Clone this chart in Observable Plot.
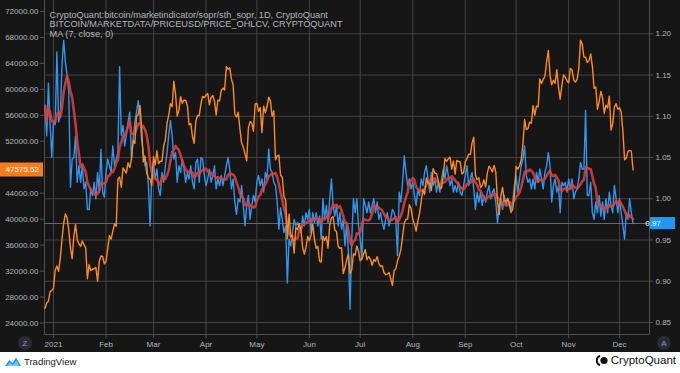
<!DOCTYPE html>
<html><head><meta charset="utf-8">
<script src="https://cdn.jsdelivr.net/npm/d3@7"></script>
<script src="https://cdn.jsdelivr.net/npm/@observablehq/plot@0.6"></script>
<style>
html,body{margin:0;padding:0;background:#fff;}
#wrap{width:680px;height:373px;position:relative;overflow:hidden;font-family:"Liberation Sans",Arial,sans-serif;}
#chart{width:680px;height:352px;background:#161616;}
#chart svg{display:block;}
#foot{height:21px;position:relative;background:#fff;}
#tv{position:absolute;left:5px;top:4px;display:flex;align-items:center;font-family:"Liberation Sans","DejaVu Sans",sans-serif;font-size:9.5px;color:#131722;}
#tv svg{margin-right:3px;}
#cq{position:absolute;right:4px;top:2px;display:flex;align-items:center;font-family:"Liberation Sans","DejaVu Sans",sans-serif;font-size:11.5px;color:#111;}
#cq svg{margin-right:3px;}
</style></head><body>
<div id="wrap">
<div id="chart"></div>
<div id="foot">
  <div id="tv"><svg width="16" height="11" viewBox="0 0 16 11"><path d="M0 10 L4.5 4 L7.5 7 L11 1.5 L16 10 Z" fill="#2196f3"/><path d="M2 10 L5 6.5 L8 9 L11.5 4.5 L14 10 Z" fill="#7cc1f7"/></svg>TradingView</div>
  <div id="cq"><svg width="12" height="11" viewBox="0 0 12 11"><path d="M4 0.8 A5 5 0 0 0 4 10.2" fill="none" stroke="#111" stroke-width="2"/><circle cx="8" cy="5.5" r="3.6" fill="#111"/></svg>CryptoQuant</div>
</div>
</div>
<script>
// ---- data ----
const startDate = "2020-12-27";
// BTC daily close (USD), 2020-12-27 .. 2021-12-09
const price = [
26272,27084,27362,28840,29001,
29374,32127,32782,31971,33992,36824,39371,40797,40254,38356,35566,33922,37316,39187,36825,36178,35792,36630,36070,35547,30825,33005,32067,32289,32366,32569,30432,33467,34316,34269,33114,
33538,35510,37473,36926,38144,39266,38903,46196,46481,44919,47909,47504,47105,48717,47945,49199,52149,51679,55888,56099,57539,54207,48824,49705,47093,46339,46188,45137,
49631,48378,50538,48561,48927,48912,51206,52246,54824,56008,57805,57332,61243,59302,55907,56804,58870,57858,58346,58313,57523,54529,54738,52774,51705,55137,55974,55947,57750,58918,58730,
59095,59384,57604,58760,59057,58192,56048,58323,58245,59793,60204,59893,63503,63109,63314,61572,60683,56216,55724,56473,53906,51762,51093,50050,49004,54021,55033,54824,53555,57750,
57828,56631,57200,53333,57424,56396,57356,58803,58232,55859,56704,49150,49716,49880,46760,46456,43537,42909,37002,40783,37304,37536,34770,38705,38403,39294,38436,35698,34616,35678,37332,
36684,37575,39187,36851,35520,35797,33552,33380,37389,36702,37334,35552,39098,40218,40406,38348,38093,35820,35484,35600,31608,32509,33678,34663,31584,32160,34644,34456,35867,35041,
33572,33897,34668,35287,33746,34235,33855,32877,33798,33520,34240,33155,32702,32822,31780,31421,31533,31796,30817,29807,32110,32313,33581,34292,35350,37337,39406,39995,40008,42235,41626,
39974,39201,38152,39747,40869,42816,44555,43798,46365,45585,45593,44428,47793,47096,47047,46004,44695,44801,46717,49339,48905,49321,49546,47706,48960,46942,49058,48903,48812,46991,47166,
48847,49327,50025,49944,51753,52633,46811,46091,46391,44883,45201,46063,44963,47092,48176,47783,47268,48278,47260,42844,40694,43575,44896,42840,42717,43208,42236,41035,41564,43790,
48117,47711,48200,49113,51515,55362,53805,53968,54968,54772,57485,56041,57401,57322,61593,60892,61553,62026,64262,65993,62210,60693,61393,60931,63040,60364,58483,60622,62228,61888,61319,
61004,63227,62970,61453,61125,61528,63327,67566,66971,64995,64950,64155,64469,65466,63557,60161,60368,56942,58119,59697,58730,56289,57570,57138,58960,53727,54721,57275,57806,56950,
57184,56481,53601,49152,49396,50441,50588,50471,47575.52
];
// STH-SOPR daily, same dates
const sopr = [
1.113,1.076,1.140,1.090,1.050,
1.093,1.090,1.178,1.093,1.100,1.162,1.192,1.166,1.150,1.130,1.014,1.048,1.050,1.076,1.020,1.040,1.020,1.040,1.012,1.020,0.987,0.987,1.012,1.004,1.020,1.000,1.032,1.008,1.060,1.008,1.002,
1.032,1.048,1.040,1.032,1.064,1.040,1.048,1.056,1.160,1.077,1.089,1.064,1.077,1.093,1.105,1.048,1.072,1.093,1.105,1.119,1.101,1.072,1.056,1.040,1.044,1.016,0.967,1.032,
1.044,1.024,1.036,1.012,1.004,1.032,1.020,1.040,1.056,1.077,1.095,1.077,1.048,1.056,1.020,1.040,1.032,1.048,1.036,1.020,1.032,1.024,1.040,1.020,1.012,1.044,1.048,1.020,1.050,1.048,1.028,
1.016,1.024,1.036,1.020,1.028,1.040,1.012,1.024,1.016,1.028,1.016,1.028,1.040,1.050,1.036,1.012,1.024,0.996,0.981,1.000,0.996,1.016,0.992,0.967,0.992,1.004,0.975,0.992,1.004,0.996,
1.020,1.028,1.016,1.024,1.008,1.032,1.024,1.060,1.036,1.032,1.020,1.016,0.996,0.963,0.989,0.975,0.959,0.967,0.898,0.951,0.943,0.959,0.975,0.967,0.971,0.967,0.959,0.979,0.967,0.983,0.975,
0.987,0.959,0.983,0.971,0.983,0.967,0.979,0.951,1.000,0.975,0.992,0.971,1.000,1.024,0.992,0.979,0.992,0.967,0.983,0.963,0.975,0.943,0.971,0.935,0.866,0.951,1.000,0.983,1.000,0.967,
0.951,0.927,1.000,0.992,0.983,0.996,0.983,0.992,1.000,0.983,0.996,0.975,0.983,0.971,0.963,0.975,0.983,0.967,0.975,0.987,0.983,0.975,0.931,1.008,0.996,1.020,1.052,1.032,1.016,1.024,1.012,
1.020,1.004,0.992,1.012,1.004,1.024,1.016,1.032,1.040,1.024,1.008,1.032,1.016,1.024,1.008,1.020,1.008,1.024,1.036,1.024,1.040,1.028,1.016,1.024,1.008,1.016,1.008,1.020,1.008,1.004,1.016,
1.028,1.040,1.016,1.024,1.032,1.012,0.987,1.008,0.996,1.008,0.992,1.004,0.996,1.008,1.016,1.000,1.008,1.012,0.996,0.971,0.992,1.000,0.987,1.004,0.992,1.000,0.996,0.987,0.996,1.016,
1.028,1.008,1.024,1.040,1.048,1.064,1.028,1.020,1.024,1.012,1.024,1.012,1.032,1.020,1.036,1.024,1.012,1.032,1.040,1.056,1.040,0.996,1.016,1.024,1.008,1.016,0.983,1.020,1.016,1.020,1.008,
1.024,1.012,1.024,1.000,1.008,1.012,1.024,1.044,1.036,1.036,1.107,1.004,1.004,1.020,0.983,0.975,0.996,0.983,1.004,0.979,0.996,0.975,1.000,0.983,1.008,0.992,0.983,1.016,1.000,0.983,
1.000,0.983,0.967,0.951,0.983,0.975,1.000,0.983,0.970
];
const monthStarts = ["2021-01-01","2021-02-01","2021-03-01","2021-04-01","2021-05-01","2021-06-01","2021-07-01","2021-08-01","2021-09-01","2021-10-01","2021-11-01","2021-12-01"];
const monthLabels = ["2021","Feb","Mar","Apr","May","Jun","Jul","Aug","Sep","Oct","Nov","Dec"];
const priceTicks = [72000,68000,64000,60000,56000,52000,44000,40000,36000,32000,28000,24000];
const soprTicks = [1.20,1.15,1.10,1.05,1.00,0.95,0.90,0.85];
const legendLines = [
  "CryptoQuant:bitcoin/marketindicator/sopr/sth_sopr, 1D, CryptoQuant",
  "BITCOIN/MARKETDATA/PRICEUSD/PRICE_OHLCV, CRYPTOQUANT",
  "MA (7, close, 0)"
];
const xDomain = [new Date("2020-12-26T16:30:00Z"), new Date("2021-12-18T17:00:00Z")];
const soprDomain = [0.8354, 1.2404];
const priceDomain = [22229, 73695];

// ---- build ----
const start = new Date(startDate + "T00:00:00Z");
const data = price.map((p, i) => ({date: d3.utcDay.offset(start, i), price: p, sopr: sopr[i]}));
const p2s = d3.scaleLinear().domain(priceDomain).range(soprDomain);
const monthDates = monthStarts.map(s => new Date(s + "T00:00:00Z"));
const lastSopr = sopr[sopr.length - 1];
const lastPrice = price[price.length - 1];
const gridColor = "#424242";
const axisColor = "#505050";
const textColor = "#b2b5be";

const chart = Plot.plot({
  width: 680, height: 352,
  marginLeft: 44, marginRight: 31, marginTop: 0, marginBottom: 18,
  style: {background: "#161616", color: textColor, fontSize: "8px", fontFamily: "'Liberation Sans',Arial,sans-serif"},
  x: {type: "utc", domain: xDomain, label: null},
  y: {domain: soprDomain, label: null},
  marks: [
    Plot.gridY(soprTicks, {stroke: gridColor, strokeOpacity: 1}),
    Plot.gridX(monthDates, {stroke: gridColor, strokeOpacity: 1}),
    Plot.ruleX([xDomain[0], xDomain[1]], {stroke: axisColor}),
    Plot.ruleY([soprDomain[0]], {stroke: axisColor}),
    Plot.ruleY([lastSopr], {stroke: "#1e88e5", strokeWidth: 1, strokeOpacity: 0.9}),
    Plot.lineY(data, {x: "date", y: "sopr", stroke: "#3096ee", strokeWidth: 1.4, clip: true}),
    Plot.lineY(data, Plot.windowY({k: 7, anchor: "end"}, {x: "date", y: "sopr", stroke: "#e0413b", strokeWidth: 2.6, strokeOpacity: 0.85, clip: true})),
    Plot.lineY(data, {x: "date", y: d => p2s(d.price), stroke: "#ff8c1a", strokeWidth: 1.4, clip: true}),
    Plot.axisY(soprTicks, {anchor: "right", label: null, tickFormat: d => d.toFixed(2), tickSize: 3, tickPadding: 3, stroke: axisColor, fill: textColor}),
    Plot.axisY(priceTicks.map(p2s), {anchor: "left", label: null, tickFormat: d => p2s.invert(d).toFixed(2), tickSize: 4, tickPadding: 2, stroke: axisColor, fill: textColor}),
    Plot.axisX(monthDates, {label: null, tickFormat: d => monthLabels[monthDates.findIndex(m => +m === +d)], tickSize: 4, tickPadding: 3, stroke: axisColor, fill: textColor}),
    Plot.text([legendLines.join("\n")], {frameAnchor: "top-left", dx: 5, dy: 10, lineAnchor: "top", textAnchor: "start", fill: textColor, fontSize: 9.2, lineHeight: 1.07})
  ]
});

const yS = chart.scale("y");
const svg = d3.select(chart);
const g = svg.append("g").attr("font-size", 8);
// last price label (left axis)
const yp = yS.apply(p2s(lastPrice));
g.append("rect").attr("x", 0).attr("y", yp - 7).attr("width", 43).attr("height", 14).attr("fill", "#f57c1f");
g.append("text").attr("x", 39).attr("y", yp).attr("dy", "0.35em").attr("text-anchor", "end").attr("fill", "#fff").text(lastPrice.toFixed(2));
// last SOPR label (right axis)
const ys = yS.apply(lastSopr);
g.append("rect").attr("x", 650).attr("y", ys - 6).attr("width", 25).attr("height", 12).attr("fill", "#2196f3");
g.append("text").attr("x", 653).attr("y", ys).attr("dy", "0.35em").attr("fill", "#fff").text(lastSopr.toFixed(2));
// Z / A buttons
[[25, "Z"], [664, "A"]].forEach(([cx, t]) => {
  g.append("circle").attr("cx", cx).attr("cy", 343).attr("r", 7).attr("fill", "#2a2c33");
  g.append("text").attr("x", cx).attr("y", 343).attr("dy", "0.35em").attr("text-anchor", "middle").attr("fill", "#9598a1").text(t);
});
document.getElementById("chart").appendChild(chart);
</script>
</body></html>
